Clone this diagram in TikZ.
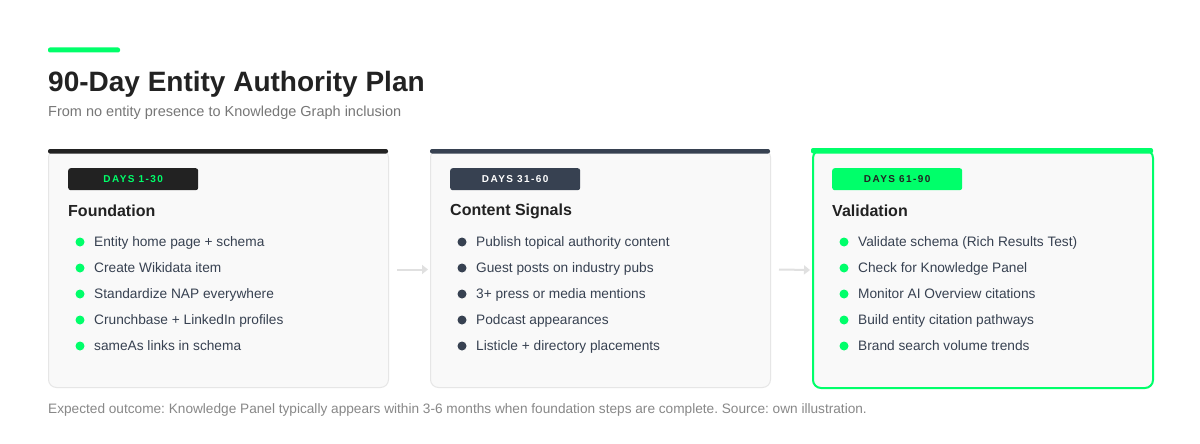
\documentclass[tikz,border=0pt]{standalone}
\usepackage{fontspec}
\setmainfont{Liberation Sans}
\usetikzlibrary{arrows.meta}
\frenchspacing
\definecolor{accent}{HTML}{00FF6A}
\definecolor{ink}{HTML}{222222}
\definecolor{slate}{HTML}{374151}
\definecolor{sub}{HTML}{777777}
\definecolor{cardfill}{HTML}{F9F9F9}
\definecolor{cardline}{HTML}{E6E6E6}
\definecolor{arrowc}{HTML}{E0E0E0}
\definecolor{itemtxt}{HTML}{374151}
\definecolor{foot}{HTML}{888888}
\tikzset{
  card/.style={draw=cardline, line width=1pt, fill=cardfill, rounded corners=8pt,
    minimum width=340pt, minimum height=238pt, inner sep=0pt, anchor=north west},
  badge/.style={rounded corners=2.5pt, minimum width=130pt, minimum height=22pt, inner sep=0pt, anchor=north west,
    font=\fontsize{10}{11}\selectfont\bfseries\addfontfeatures{LetterSpace=14}},
  heading/.style={anchor=west, inner sep=0pt, font=\fontsize{16}{18}\selectfont\bfseries, text=ink},
  item/.style={anchor=base west, inner sep=0pt, font=\fontsize{13.7}{15}\selectfont, text=itemtxt},
  dot/.style={circle, minimum size=9pt, inner sep=0pt},
  flow/.style={draw=arrowc, line width=2pt, -{Triangle[length=6pt,width=9pt]}},
}
\begin{document}
\begin{tikzpicture}[x=1pt,y=-1pt]
\useasboundingbox[fill=white] (0,0) rectangle (1200,444);
% accent bar
\fill[accent, rounded corners=2pt] (48,47.5) rectangle (120,52.5);
\node[anchor=base west, inner sep=0pt, text=ink, font=\fontsize{28}{30}\selectfont\bfseries] (title) at (48,92) {90-Day Entity Authority Plan};
\node[anchor=base west, inner sep=0pt, text=sub, font=\fontsize{14.5}{16}\selectfont] (subtitle) at (48,116) {From no entity presence to Knowledge Graph inclusion};

% ---- card 1
\node[card] (c1) at (48,149) {};
\fill[ink, rounded corners=2pt] (48,149) rectangle (388,153.5);
\node[badge, fill=ink, text=accent] (b1) at (68,168) {DAYS 1-30};
\node[heading] (h1) at (68,211) {Foundation};
\foreach \t [count=\i] in {Entity home page + schema, Create Wikidata item, Standardize NAP everywhere, Crunchbase + LinkedIn profiles, sameAs links in schema}{
  \node[dot, fill=accent] (d1\i) at (80,{242+26*(\i-1)}) {};
  \node[item] (t1\i) at (94,{246.8+26*(\i-1)}) {\t};
}

% ---- card 2
\node[card] (c2) at (430,149) {};
\fill[slate, rounded corners=2pt] (430,149) rectangle (770,153.5);
\node[badge, fill=slate, text=white] (b2) at (450,168) {DAYS 31-60};
\node[heading] (h2) at (450,211) {Content Signals};
\foreach \t [count=\i] in {Publish topical authority content, Guest posts on industry pubs, 3+ press or media mentions, Podcast appearances, Listicle + directory placements}{
  \node[dot, fill=slate] (d2\i) at (462,{242+26*(\i-1)}) {};
  \node[item] (t2\i) at (476,{246.8+26*(\i-1)}) {\t};
}

% ---- card 3
\node[card, draw=accent, line width=2pt] (c3) at (812,149) {};
\fill[accent, rounded corners=2pt] (811,148) rectangle (1153,153.5);
\node[badge, fill=accent, text=ink] (b3) at (832,168) {DAYS 61-90};
\node[heading] (h3) at (832,211) {Validation};
\foreach \t [count=\i] in {Validate schema (Rich Results Test), Check for Knowledge Panel, Monitor AI Overview citations, Build entity citation pathways, Brand search volume trends}{
  \node[dot, fill=accent] (d3\i) at (844,{242+26*(\i-1)}) {};
  \node[item] (t3\i) at (858,{246.8+26*(\i-1)}) {\t};
}

% ---- connectors
\draw[flow] ([xshift=8pt,yshift=-1pt]c1.east) -- ([xshift=-2pt,yshift=-1pt]c2.west);
\draw[flow] ([xshift=8pt,yshift=-1pt]c2.east) -- ([xshift=-2pt,yshift=-1pt]c3.west);

\node[anchor=base west, inner sep=0pt, text=foot, font=\fontsize{13.65}{15}\selectfont] (footer) at (48,413) {Expected outcome: Knowledge Panel typically appears within 3-6 months when foundation steps are complete. Source: own illustration.};
\end{tikzpicture}
\end{document}
